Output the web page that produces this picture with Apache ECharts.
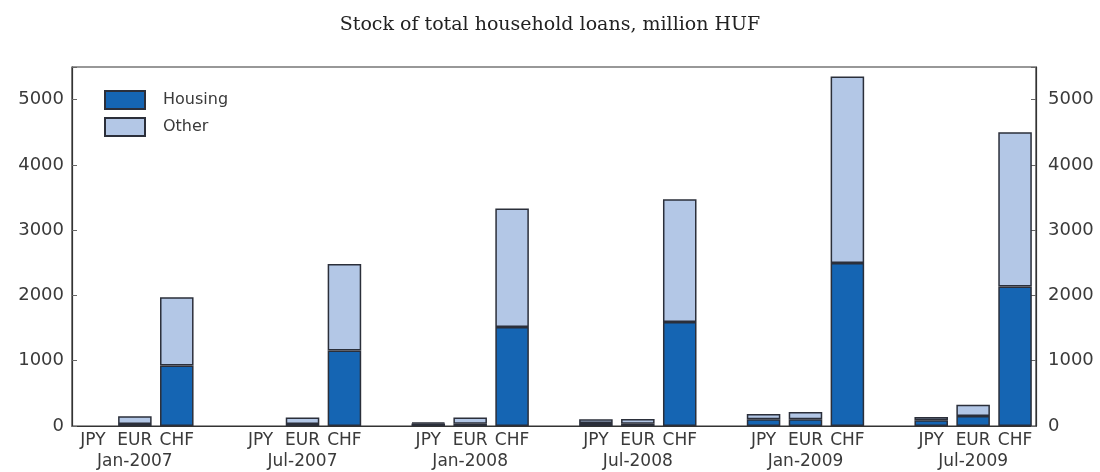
<!DOCTYPE html>
<html>
<head>
<meta charset="utf-8">
<script src="https://cdn.jsdelivr.net/npm/echarts@6/dist/echarts.min.js"></script>
<style>
html,body{margin:0;padding:0;background:#fff;}
#chart{width:1100px;height:472px;}
</style>
</head>
<body>
<div id="chart"></div>
<script>
// ---- Data ----
const dates = ['Jan-2007', 'Jul-2007', 'Jan-2008', 'Jul-2008', 'Jan-2009', 'Jul-2009'];
const currencies = ['JPY', 'EUR', 'CHF'];
const housingJPY = [0, 0, 40, 45, 105, 90];
const otherJPY   = [0, 0, 15, 60, 80, 47];
const housingEUR = [30, 30, 35, 35, 105, 152];
const otherEUR   = [120, 100, 95, 72, 108, 173];
const housingCHF = [925, 1158, 1518, 1594, 2496, 2136];
const otherCHF   = [1046, 1325, 1815, 1881, 2857, 2364];
const yTicks = [0, 1000, 2000, 3000, 4000, 5000];

// ---- Build slot categories (JPY, EUR, CHF, gap per date) ----
const housing = { JPY: housingJPY, EUR: housingEUR, CHF: housingCHF };
const other = { JPY: otherJPY, EUR: otherEUR, CHF: otherCHF };
const slots = [], hData = [], oData = [];
dates.forEach((d, i) => {
  currencies.forEach(c => {
    slots.push(c === 'EUR' ? c + '\n' + d : c);
    hData.push(housing[c][i] === 0 ? '-' : housing[c][i]);
    oData.push(other[c][i] === 0 ? '-' : other[c][i]);
  });
  if (i < dates.length - 1) { slots.push(''); hData.push('-'); oData.push('-'); }
});

const axisCol = '#333';
const yLabelFont = { fontFamily: 'DejaVu Sans', fontSize: 18, color: '#3a3a3a' };
const yAxisCommon = {
  type: 'value', min: 0, max: 5500, interval: 1000,
  axisLine: { show: true, lineStyle: { color: axisCol, width: 1.2 } },
  axisTick: { show: true, inside: true, length: 5, lineStyle: { color: '#666' } },
  splitLine: { show: false },
  axisLabel: Object.assign({}, yLabelFont, {
    formatter: v => yTicks.indexOf(v) >= 0 ? String(v) : ''
  })
};

const chart = echarts.init(document.getElementById('chart'));
chart.setOption({
  backgroundColor: '#fff',
  animation: false,
  title: {
    text: 'Stock of total household loans, million HUF',
    left: 'center', top: 11,
    textStyle: { fontFamily: 'DejaVu Serif', fontSize: 19, fontWeight: 'normal', color: '#222' }
  },
  legend: {
    orient: 'vertical', left: 99, top: 85, itemGap: 7,
    itemWidth: 40, itemHeight: 18, icon: 'rect',
    textStyle: { fontFamily: 'DejaVu Sans', fontSize: 16, color: '#3a3a3a', padding: [0, 0, 0, 13] },
    data: ['Housing', 'Other']
  },
  grid: { left: 72, right: 64, top: 67, bottom: 43, show: true, borderColor: axisCol, borderWidth: 1.2 },
  xAxis: {
    type: 'category', data: slots,
    axisLine: { show: true, lineStyle: { color: axisCol, width: 1.2 } },
    axisTick: { show: false },
    axisLabel: { fontFamily: 'DejaVu Sans', fontSize: 17, color: '#3a3a3a', interval: 0, margin: 4, lineHeight: 21 }
  },
  yAxis: [
    Object.assign({}, yAxisCommon, { position: 'left', axisLabel: Object.assign({}, yAxisCommon.axisLabel, { margin: 8 }) }),
    Object.assign({}, yAxisCommon, { position: 'right', axisLabel: Object.assign({}, yAxisCommon.axisLabel, { margin: 12 }) })
  ],
  series: [
    {
      name: 'Housing', type: 'bar', stack: 'loans', data: hData, barWidth: '80%',
      itemStyle: { color: '#1565b3', borderColor: '#2b2f3a', borderWidth: 1.5 }
    },
    {
      name: 'Other', type: 'bar', stack: 'loans', data: oData, barWidth: '80%',
      itemStyle: { color: '#b3c7e6', borderColor: '#2b2f3a', borderWidth: 1.5 }
    }
  ]
});
</script>
</body>
</html>
